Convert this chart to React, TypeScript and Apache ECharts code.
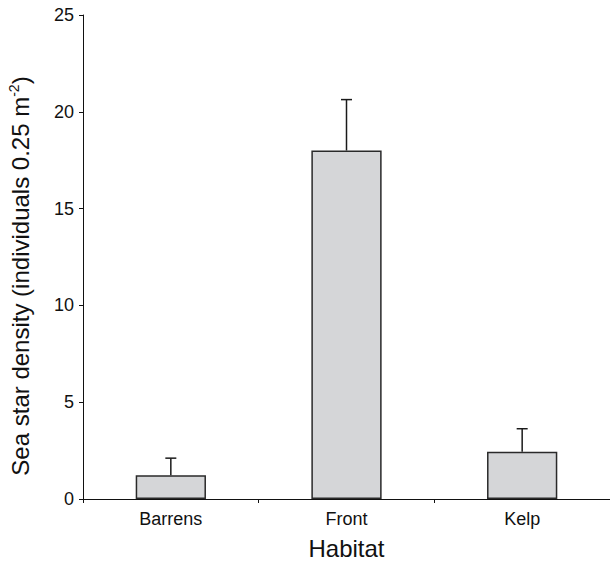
import React, { useEffect, useRef } from "react";
import * as echarts from "echarts";

const categories = ["Barrens", "Front", "Kelp"];
const means = [1.23, 18.0, 2.44];
const errors = [0.88, 2.63, 1.19];
const yTicks = { min: 0, max: 25, interval: 5 };

const FONT = "'Liberation Sans', Arial, Helvetica, sans-serif";

export default function App() {
  const ref = useRef<HTMLDivElement>(null);
  useEffect(() => {
    if (!ref.current) return;
    const chart = echarts.init(ref.current, undefined, { renderer: "svg" });
    const errData = categories.map((c, i) => [i, means[i], means[i] + errors[i]]);
    chart.setOption({
      animation: false,
      backgroundColor: "#ffffff",
      textStyle: { fontFamily: FONT },
      grid: { left: 83, top: 15, width: 530, bottom: 65.5 },
      xAxis: {
        type: "category",
        data: categories,
        boundaryGap: true,
        name: "Habitat",
        nameLocation: "middle",
        nameGap: 37,
        nameTextStyle: { fontSize: 24, color: "#111", fontFamily: FONT },
        axisLine: { lineStyle: { color: "#111", width: 1 } },
        axisTick: { show: true, length: 4, lineStyle: { color: "#111" } },
        axisLabel: { fontSize: 18, color: "#111", margin: 11, fontFamily: FONT },
        splitLine: { show: false },
      },
      yAxis: {
        type: "value",
        min: yTicks.min,
        max: yTicks.max,
        interval: yTicks.interval,
        axisLine: { show: true, lineStyle: { color: "#111", width: 1 } },
        axisTick: { show: true, length: 4, lineStyle: { color: "#111" } },
        axisLabel: { fontSize: 18, color: "#111", margin: 9, fontFamily: FONT },
        splitLine: { show: false },
      },
      graphic: [
        {
          type: "text",
          x: 20,
          y: 276,
          rotation: Math.PI / 2,
          style: {
            text: "{a|Sea star density (individuals 0.25 m}{s|-2}{a|)}",
            align: "center",
            verticalAlign: "middle",
            rich: {
              a: { fontSize: 24, fontFamily: FONT, fill: "#111", lineHeight: 26 },
              s: { fontSize: 14, fontFamily: FONT, fill: "#111", verticalAlign: "top", lineHeight: 14 },
            },
          },
        },
      ],
      series: [
        {
          type: "bar",
          data: means,
          barWidth: "40%",
          itemStyle: { color: "#d5d6d8", borderColor: "#2a2a2a", borderWidth: 1.5 },
          z: 2,
        },
        {
          type: "custom",
          data: errData,
          encode: { x: 0, y: [1, 2] },
          z: 3,
          renderItem: (params: any, api: any) => {
            const i = api.value(0);
            const base = api.coord([i, api.value(1)]);
            const top = api.coord([i, api.value(2)]);
            const style = { stroke: "#1a1a1a", lineWidth: 1.5 };
            return {
              type: "group",
              children: [
                { type: "line", shape: { x1: base[0], y1: base[1], x2: top[0], y2: top[1] }, style },
                { type: "line", shape: { x1: top[0] - 5.5, y1: top[1], x2: top[0] + 5.5, y2: top[1] }, style },
              ],
            };
          },
        },
      ],
    });
    return () => chart.dispose();
  }, []);
  return <div ref={ref} style={{ width: 610, height: 565, position: "absolute", left: 0, top: 0 }} />;
}
